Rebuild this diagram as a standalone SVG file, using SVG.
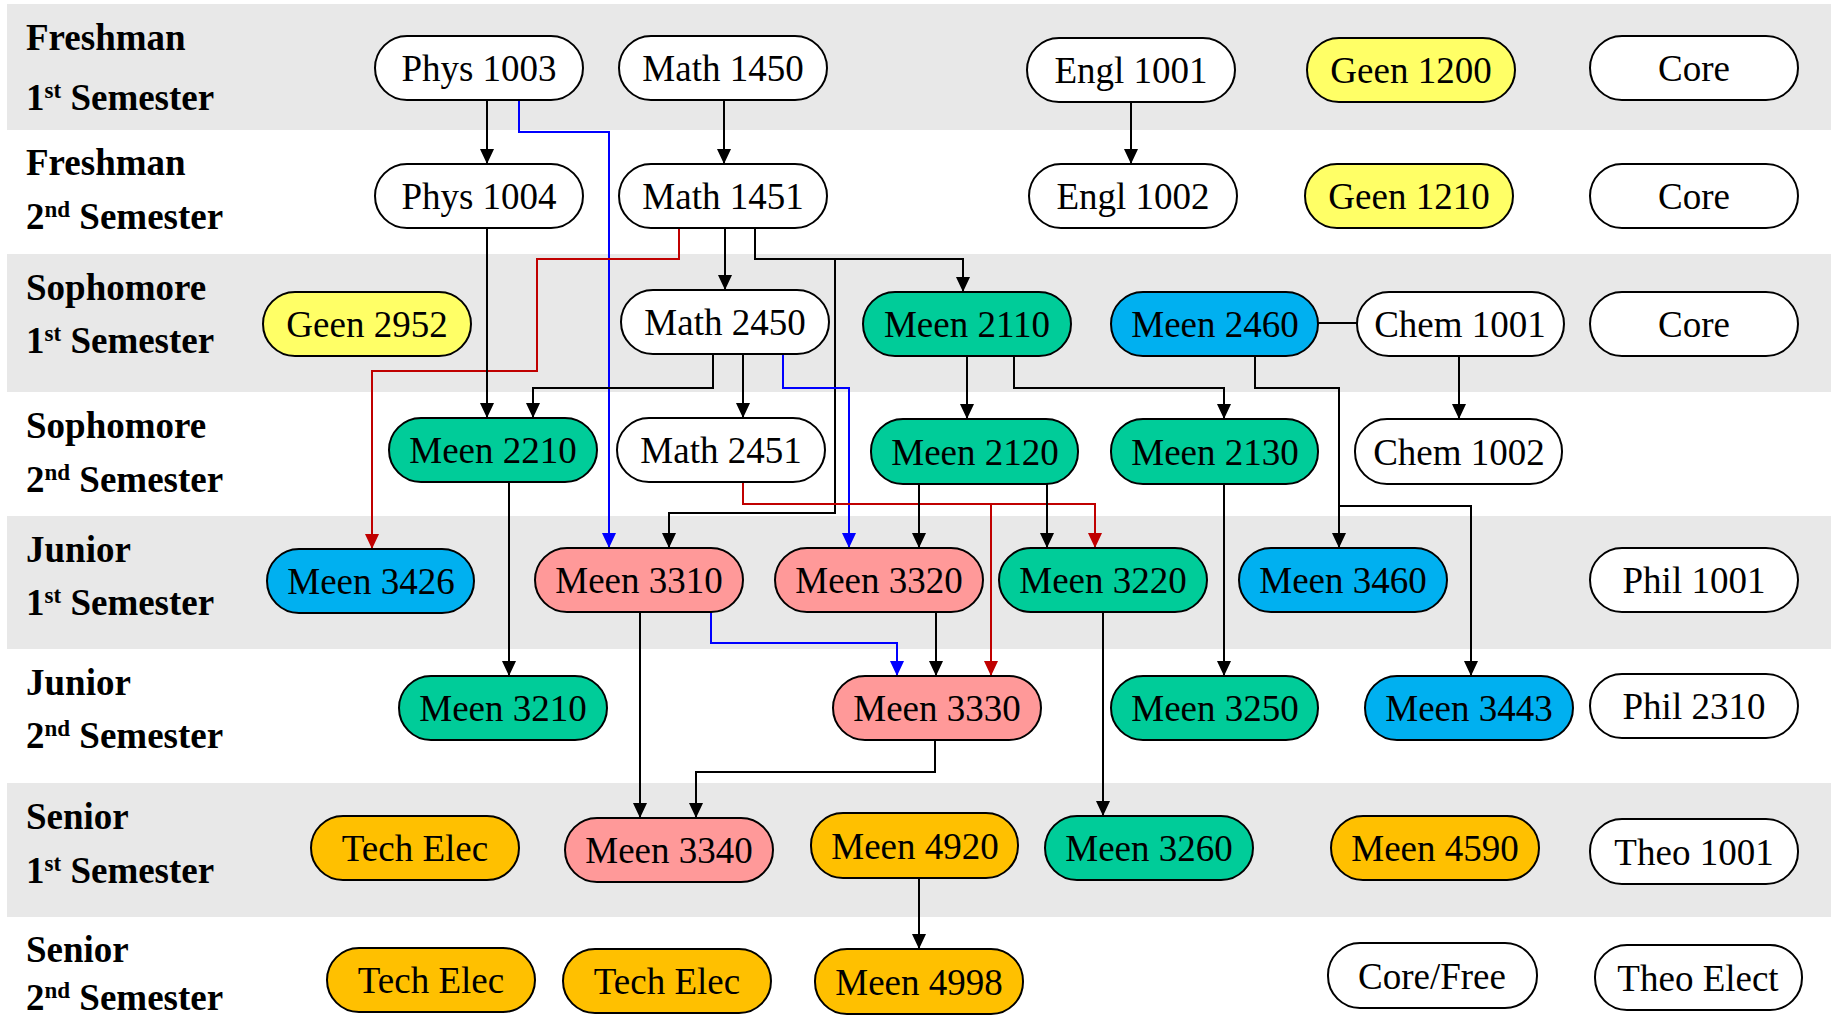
<svg xmlns="http://www.w3.org/2000/svg" width="1837" height="1017" viewBox="0 0 1837 1017">
<style>
.band{fill:#e8e8e8}
.lbl{font-family:"Liberation Serif","Times New Roman",serif;font-weight:bold;font-size:37px;fill:#000}
.sup{font-size:23px}
.n rect{stroke:#000;stroke-width:2}
.n text{font-family:"Liberation Serif","Times New Roman",serif;font-size:37px;fill:#000;text-anchor:middle}
.w rect{fill:#fff}
.y rect{fill:#ffff66}
.g rect{fill:#00cc99}
.b rect{fill:#00b0f0}
.p rect{fill:#ff9999}
.o rect{fill:#ffc000}
.c{fill:none;stroke-width:2}
.k{stroke:#000}
.r{stroke:#c00000}
.u{stroke:#0000ff}
</style>
<defs>
<marker id="akd" viewBox="0 0 14 15" refX="7" refY="15" markerWidth="14" markerHeight="15" markerUnits="userSpaceOnUse"><path d="M0,0 L14,0 L7,15 Z" fill="#000"/></marker>
<marker id="ard" viewBox="0 0 14 15" refX="7" refY="15" markerWidth="14" markerHeight="15" markerUnits="userSpaceOnUse"><path d="M0,0 L14,0 L7,15 Z" fill="#c00000"/></marker>
<marker id="aud" viewBox="0 0 14 15" refX="7" refY="15" markerWidth="14" markerHeight="15" markerUnits="userSpaceOnUse"><path d="M0,0 L14,0 L7,15 Z" fill="#0000ff"/></marker>
</defs>
<rect width="1837" height="1017" fill="#fff"/>
<g id="bands">
<rect class="band" x="7" y="4" width="1824" height="126"/>
<rect class="band" x="7" y="254" width="1824" height="138"/>
<rect class="band" x="7" y="516" width="1824" height="133"/>
<rect class="band" x="7" y="783" width="1824" height="134"/>
</g>
<g id="labels">
<text class="lbl" x="26" y="50">Freshman</text>
<text class="lbl" x="26" y="110">1<tspan class="sup" dy="-12">st</tspan><tspan dy="12"> Semester</tspan></text>
<text class="lbl" x="26" y="175">Freshman</text>
<text class="lbl" x="26" y="229">2<tspan class="sup" dy="-12">nd</tspan><tspan dy="12"> Semester</tspan></text>
<text class="lbl" x="26" y="300">Sophomore</text>
<text class="lbl" x="26" y="353">1<tspan class="sup" dy="-12">st</tspan><tspan dy="12"> Semester</tspan></text>
<text class="lbl" x="26" y="438">Sophomore</text>
<text class="lbl" x="26" y="492">2<tspan class="sup" dy="-12">nd</tspan><tspan dy="12"> Semester</tspan></text>
<text class="lbl" x="26" y="562">Junior</text>
<text class="lbl" x="26" y="615">1<tspan class="sup" dy="-12">st</tspan><tspan dy="12"> Semester</tspan></text>
<text class="lbl" x="26" y="695">Junior</text>
<text class="lbl" x="26" y="748">2<tspan class="sup" dy="-12">nd</tspan><tspan dy="12"> Semester</tspan></text>
<text class="lbl" x="26" y="829">Senior</text>
<text class="lbl" x="26" y="883">1<tspan class="sup" dy="-12">st</tspan><tspan dy="12"> Semester</tspan></text>
<text class="lbl" x="26" y="962">Senior</text>
<text class="lbl" x="26" y="1010">2<tspan class="sup" dy="-12">nd</tspan><tspan dy="12"> Semester</tspan></text>
</g>
<g id="connectors">
<path class="c k" d="M487,100 V164" marker-end="url(#akd)"/>
<path class="c k" d="M724,100 V164" marker-end="url(#akd)"/>
<path class="c k" d="M1131,102 V164" marker-end="url(#akd)"/>
<path class="c u" d="M519,100 V132 H609 V548" marker-end="url(#aud)"/>
<path class="c k" d="M725,228 V290" marker-end="url(#akd)"/>
<path class="c k" d="M755,228 V259 H963 V292" marker-end="url(#akd)"/>
<path class="c r" d="M679,228 V259 H537 V371 H372 V549" marker-end="url(#ard)"/>
<path class="c k" d="M835,259 V513 H669 V548" marker-end="url(#akd)"/>
<path class="c k" d="M487,228 V418" marker-end="url(#akd)"/>
<path class="c k" d="M713,354 V388 H533 V418" marker-end="url(#akd)"/>
<path class="c k" d="M743,354 V418" marker-end="url(#akd)"/>
<path class="c u" d="M783,354 V388 H849 V548" marker-end="url(#aud)"/>
<path class="c k" d="M967,356 V419" marker-end="url(#akd)"/>
<path class="c k" d="M1014,356 V388 H1224 V419" marker-end="url(#akd)"/>
<path class="c k" d="M1318,323 H1357"/>
<path class="c k" d="M1459,356 V419" marker-end="url(#akd)"/>
<path class="c k" d="M1255,356 V388 H1339 V548" marker-end="url(#akd)"/>
<path class="c k" d="M1339,506 H1471 V676" marker-end="url(#akd)"/>
<path class="c r" d="M743,482 V504 H1095 V548" marker-end="url(#ard)"/>
<path class="c r" d="M991,504 V676" marker-end="url(#ard)"/>
<path class="c k" d="M919,484 V548" marker-end="url(#akd)"/>
<path class="c k" d="M1047,484 V548" marker-end="url(#akd)"/>
<path class="c k" d="M509,482 V676" marker-end="url(#akd)"/>
<path class="c k" d="M1224,484 V676" marker-end="url(#akd)"/>
<path class="c k" d="M640,612 V818" marker-end="url(#akd)"/>
<path class="c u" d="M711,612 V643 H897 V676" marker-end="url(#aud)"/>
<path class="c k" d="M936,612 V676" marker-end="url(#akd)"/>
<path class="c k" d="M1103,612 V816" marker-end="url(#akd)"/>
<path class="c k" d="M935,740 V772 H696 V818" marker-end="url(#akd)"/>
<path class="c k" d="M919,878 V949" marker-end="url(#akd)"/>
</g>
<g id="phys1003" class="n w"><rect x="375" y="36" width="208" height="64" rx="32"/><text x="479" y="81">Phys 1003</text></g>
<g id="math1450" class="n w"><rect x="619" y="36" width="208" height="64" rx="32"/><text x="723" y="81">Math 1450</text></g>
<g id="engl1001" class="n w"><rect x="1027" y="38" width="208" height="64" rx="32"/><text x="1131" y="83">Engl 1001</text></g>
<g id="geen1200" class="n y"><rect x="1307" y="38" width="208" height="64" rx="32"/><text x="1411" y="83">Geen 1200</text></g>
<g id="core1" class="n w"><rect x="1590" y="36" width="208" height="64" rx="32"/><text x="1694" y="81">Core</text></g>
<g id="phys1004" class="n w"><rect x="375" y="164" width="208" height="64" rx="32"/><text x="479" y="209">Phys 1004</text></g>
<g id="math1451" class="n w"><rect x="619" y="164" width="208" height="64" rx="32"/><text x="723" y="209">Math 1451</text></g>
<g id="engl1002" class="n w"><rect x="1029" y="164" width="208" height="64" rx="32"/><text x="1133" y="209">Engl 1002</text></g>
<g id="geen1210" class="n y"><rect x="1305" y="164" width="208" height="64" rx="32"/><text x="1409" y="209">Geen 1210</text></g>
<g id="core2" class="n w"><rect x="1590" y="164" width="208" height="64" rx="32"/><text x="1694" y="209">Core</text></g>
<g id="geen2952" class="n y"><rect x="263" y="292" width="208" height="64" rx="32"/><text x="367" y="337">Geen 2952</text></g>
<g id="math2450" class="n w"><rect x="621" y="290" width="208" height="64" rx="32"/><text x="725" y="335">Math 2450</text></g>
<g id="meen2110" class="n g"><rect x="863" y="292" width="208" height="64" rx="32"/><text x="967" y="337">Meen 2110</text></g>
<g id="meen2460" class="n b"><rect x="1111" y="292" width="207" height="64" rx="32"/><text x="1215" y="337">Meen 2460</text></g>
<g id="chem1001" class="n w"><rect x="1357" y="292" width="207" height="64" rx="32"/><text x="1460" y="337">Chem 1001</text></g>
<g id="core3" class="n w"><rect x="1590" y="292" width="208" height="64" rx="32"/><text x="1694" y="337">Core</text></g>
<g id="meen2210" class="n g"><rect x="389" y="418" width="208" height="64" rx="32"/><text x="493" y="463">Meen 2210</text></g>
<g id="math2451" class="n w"><rect x="617" y="418" width="208" height="64" rx="32"/><text x="721" y="463">Math 2451</text></g>
<g id="meen2120" class="n g"><rect x="871" y="419" width="207" height="65" rx="32"/><text x="975" y="465">Meen 2120</text></g>
<g id="meen2130" class="n g"><rect x="1111" y="419" width="207" height="65" rx="32"/><text x="1215" y="465">Meen 2130</text></g>
<g id="chem1002" class="n w"><rect x="1355" y="419" width="207" height="65" rx="32"/><text x="1459" y="465">Chem 1002</text></g>
<g id="meen3426" class="n b"><rect x="267" y="549" width="207" height="64" rx="32"/><text x="371" y="594">Meen 3426</text></g>
<g id="meen3310" class="n p"><rect x="535" y="548" width="208" height="64" rx="32"/><text x="639" y="593">Meen 3310</text></g>
<g id="meen3320" class="n p"><rect x="775" y="548" width="208" height="64" rx="32"/><text x="879" y="593">Meen 3320</text></g>
<g id="meen3220" class="n g"><rect x="999" y="548" width="208" height="64" rx="32"/><text x="1103" y="593">Meen 3220</text></g>
<g id="meen3460" class="n b"><rect x="1239" y="548" width="208" height="64" rx="32"/><text x="1343" y="593">Meen 3460</text></g>
<g id="phil1001" class="n w"><rect x="1590" y="548" width="208" height="64" rx="32"/><text x="1694" y="593">Phil 1001</text></g>
<g id="meen3210" class="n g"><rect x="399" y="676" width="208" height="64" rx="32"/><text x="503" y="721">Meen 3210</text></g>
<g id="meen3330" class="n p"><rect x="833" y="676" width="208" height="64" rx="32"/><text x="937" y="721">Meen 3330</text></g>
<g id="meen3250" class="n g"><rect x="1111" y="676" width="207" height="64" rx="32"/><text x="1215" y="721">Meen 3250</text></g>
<g id="meen3443" class="n b"><rect x="1365" y="676" width="208" height="64" rx="32"/><text x="1469" y="721">Meen 3443</text></g>
<g id="phil2310" class="n w"><rect x="1590" y="674" width="208" height="64" rx="32"/><text x="1694" y="719">Phil 2310</text></g>
<g id="techelec1" class="n o"><rect x="311" y="816" width="208" height="64" rx="32"/><text x="415" y="861">Tech Elec</text></g>
<g id="meen3340" class="n p"><rect x="565" y="818" width="208" height="64" rx="32"/><text x="669" y="863">Meen 3340</text></g>
<g id="meen4920" class="n o"><rect x="811" y="813" width="207" height="65" rx="32"/><text x="915" y="859">Meen 4920</text></g>
<g id="meen3260" class="n g"><rect x="1045" y="816" width="208" height="64" rx="32"/><text x="1149" y="861">Meen 3260</text></g>
<g id="meen4590" class="n o"><rect x="1331" y="816" width="208" height="64" rx="32"/><text x="1435" y="861">Meen 4590</text></g>
<g id="theo1001" class="n w"><rect x="1590" y="819" width="208" height="65" rx="32"/><text x="1694" y="865">Theo 1001</text></g>
<g id="techelec2" class="n o"><rect x="327" y="948" width="208" height="64" rx="32"/><text x="431" y="993">Tech Elec</text></g>
<g id="techelec3" class="n o"><rect x="563" y="949" width="208" height="64" rx="32"/><text x="667" y="994">Tech Elec</text></g>
<g id="meen4998" class="n o"><rect x="815" y="949" width="208" height="65" rx="32"/><text x="919" y="995">Meen 4998</text></g>
<g id="corefree" class="n w"><rect x="1328" y="943" width="209" height="65" rx="32"/><text x="1432" y="989">Core/Free</text></g>
<g id="theoelect" class="n w"><rect x="1595" y="945" width="207" height="65" rx="32"/><text x="1698" y="991">Theo Elect</text></g>
</svg>
